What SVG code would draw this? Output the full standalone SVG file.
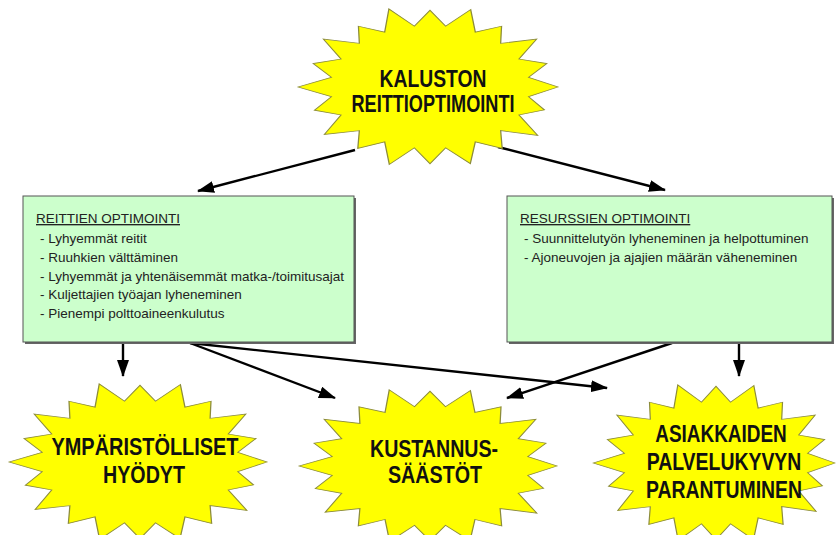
<svg xmlns="http://www.w3.org/2000/svg" xmlns:xlink="http://www.w3.org/1999/xlink" width="836" height="535" viewBox="0 0 836 535">
<style>
.burst{fill:#ffff00;stroke:#8c8c3c;stroke-width:1;vector-effect:non-scaling-stroke}
.bt{font-family:"Liberation Sans",Arial,sans-serif;font-weight:bold;font-size:24px;fill:#111;text-anchor:middle}
.box{fill:#ccffcc;stroke:#555;stroke-width:1}
.shadow{fill:#666}
.tt{font-family:"Liberation Sans",Arial,sans-serif;font-size:13.5px;fill:#222}
.ul{text-decoration:underline}
.conn line{stroke:#000;stroke-width:2.4;marker-end:url(#ah)}
</style>
<defs>
<marker id="ah" markerUnits="userSpaceOnUse" markerWidth="17" markerHeight="12" refX="16" refY="6" orient="auto">
<path d="M0,0 L17,6 L0,12 z" fill="#000"/>
</marker>
<path id="star" d="M100,0 L77,12.2 L89.4,29 L69.5,35.4 L84.1,61.2 L55.2,55.2 L56.4,77.7 L35.4,69.5 L31.5,97 L12.2,77 L0,97 L-12.2,77 L-31.8,98 L-35.4,69.5 L-56.4,77.7 L-55.2,55.2 L-82.5,60 L-69.5,35.4 L-90.3,29.4 L-77,12.2 L-103,0 L-77,-12.2 L-91.3,-29.7 L-69.5,-35.4 L-83.3,-60.6 L-55.2,-55.2 L-55.9,-76.9 L-35.4,-69.5 L-32.1,-98.9 L-12.2,-77 L0,-97 L12.2,-77 L31.8,-98 L35.4,-69.5 L55.9,-76.9 L55.2,-55.2 L83.3,-60.6 L69.5,-35.4 L91.3,-29.7 L77,-12.2 Z"/>
</defs>
<rect width="836" height="535" fill="#fff"/>

<g id="conns" class="conn">
<line x1="355" y1="150" x2="198" y2="191"/>
<line x1="498" y1="147" x2="665" y2="190"/>
<line x1="123" y1="342" x2="123" y2="376"/>
<line x1="190" y1="343" x2="335" y2="398"/>
<line x1="190" y1="343" x2="607" y2="388"/>
<line x1="672" y1="343" x2="507" y2="398"/>
<line x1="739" y1="342" x2="739" y2="376"/>
</g>

<g id="kaluston">
<use xlink:href="#star" class="burst" transform="translate(430,87) scale(1.28,0.79)"/>
<text class="bt" x="433" y="87" textLength="107" lengthAdjust="spacingAndGlyphs">KALUSTON</text>
<text class="bt" x="433" y="112" textLength="163" lengthAdjust="spacingAndGlyphs">REITTIOPTIMOINTI</text>
</g>

<g id="reittien">
<rect class="shadow" x="25" y="198" width="331" height="146"/>
<rect class="box" x="23" y="196" width="331" height="146"/>
<text class="tt ul" x="36" y="223">REITTIEN OPTIMOINTI</text>
<text class="tt" x="40" y="243">- Lyhyemmät reitit</text>
<text class="tt" x="40" y="262">- Ruuhkien välttäminen</text>
<text class="tt" x="40" y="281">- Lyhyemmät ja yhtenäisemmät matka-/toimitusajat</text>
<text class="tt" x="40" y="299">- Kuljettajien työajan lyheneminen</text>
<text class="tt" x="40" y="318">- Pienempi polttoaineenkulutus</text>
</g>

<g id="resurssien">
<rect class="shadow" x="509" y="198" width="325" height="146"/>
<rect class="box" x="507" y="196" width="325" height="146"/>
<text class="tt ul" x="520" y="223">RESURSSIEN OPTIMOINTI</text>
<text class="tt" x="524" y="243">- Suunnittelutyön lyheneminen ja helpottuminen</text>
<text class="tt" x="524" y="262">- Ajoneuvojen ja ajajien määrän väheneminen</text>
</g>

<g id="ymparisto">
<use xlink:href="#star" class="burst" transform="translate(140,462) scale(1.27,0.79)"/>
<text class="bt" x="145" y="455" textLength="187" lengthAdjust="spacingAndGlyphs">YMPÄRISTÖLLISET</text>
<text class="bt" x="144" y="483" textLength="82" lengthAdjust="spacingAndGlyphs">HYÖDYT</text>
</g>

<g id="kustannus">
<use xlink:href="#star" class="burst" transform="translate(430,466) scale(1.27,0.77)"/>
<text class="bt" x="434" y="457" textLength="128" lengthAdjust="spacingAndGlyphs">KUSTANNUS-</text>
<text class="bt" x="435" y="483" textLength="94" lengthAdjust="spacingAndGlyphs">SÄÄSTÖT</text>
</g>

<g id="asiakkaiden">
<use xlink:href="#star" class="burst" transform="translate(716,463) scale(1.19,0.79)"/>
<text class="bt" transform="translate(721,442) scale(0.79,1)">ASIAKKAIDEN</text>
<text class="bt" transform="translate(724,470) scale(0.81,1)">PALVELUKYVYN</text>
<text class="bt" transform="translate(724,498) scale(0.81,1)">PARANTUMINEN</text>
</g>
</svg>
